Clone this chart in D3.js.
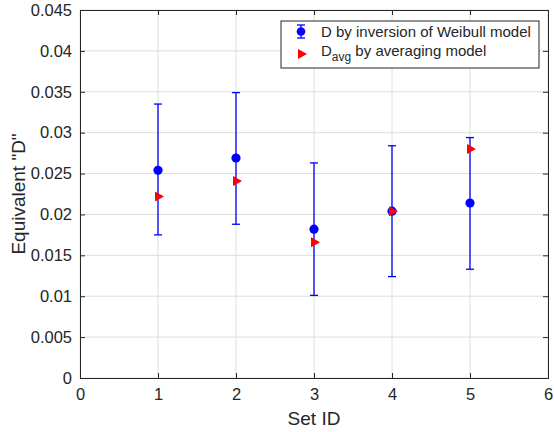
<!DOCTYPE html>
<html>
<head>
<meta charset="utf-8">
<script src="https://cdn.jsdelivr.net/npm/d3@7"></script>
<style>
  body { margin: 0; background: #fff; }
  text { font-family: "Liberation Sans", Arial, Helvetica, sans-serif; fill: #262626; }
</style>
</head>
<body>
<div class="chart"></div>
<script>

// DATA ------------------------------
const setIds = [1, 2, 3, 4, 5];
const dWeibull = [0.0254, 0.0269, 0.0182, 0.0204, 0.0214];
const dLower = [0.0175, 0.0188, 0.0101, 0.0124, 0.0133];
const dUpper = [0.0335, 0.0349, 0.0263, 0.0284, 0.0294];
const dAvg = [0.0222, 0.0241, 0.0166, 0.0204, 0.0280];
const xTicks = [0, 1, 2, 3, 4, 5, 6];
const yTicks = [0, 0.005, 0.01, 0.015, 0.02, 0.025, 0.03, 0.035, 0.04, 0.045];


// CHART INIT ------------------------------
const margin = {top: 10, right: 6, bottom: 54, left: 80};
const width = 554 - margin.left - margin.right;
const height = 432 - margin.top - margin.bottom;

const svg = d3.select(".chart").append("svg")
  .attr("width", width + margin.left + margin.right)
  .attr("height", height + margin.top + margin.bottom)
  .append("g")
  .attr("transform", "translate(" + margin.left + "," + margin.top + ")");

const xScale = d3.scaleLinear().domain([0, 6]).range([0, width]);
const yScale = d3.scaleLinear().domain([0, 0.045]).range([height, 0]);

// grid
svg.append("g").selectAll("line.gx")
  .data(xTicks)
  .join("line")
  .attr("x1", d => xScale(d)).attr("x2", d => xScale(d))
  .attr("y1", 0).attr("y2", height)
  .attr("stroke", "#dedede").attr("stroke-width", 1);

svg.append("g").selectAll("line.gy")
  .data(yTicks)
  .join("line")
  .attr("x1", 0).attr("x2", width)
  .attr("y1", d => yScale(d)).attr("y2", d => yScale(d))
  .attr("stroke", "#dedede").attr("stroke-width", 1);

// axes
const xAxis = d3.axisBottom(xScale).tickValues(xTicks).tickSize(-5).tickPadding(10).tickFormat(d3.format("d"));
const yAxis = d3.axisLeft(yScale).tickValues(yTicks).tickSize(-5).tickPadding(8).tickFormat(d => d === 0 ? "0" : String(+d.toFixed(3)));

svg.append("g")
  .attr("class", "x-axis")
  .attr("transform", `translate(0, ${height})`)
  .call(xAxis);

svg.append("g")
  .attr("class", "y-axis")
  .call(yAxis);

// top / right mirrored ticks
svg.append("g").call(d3.axisTop(xScale).tickValues(xTicks).tickSize(-5).tickFormat(""));
svg.append("g").attr("transform", `translate(${width},0)`)
  .call(d3.axisRight(yScale).tickValues(yTicks).tickSize(-5).tickFormat(""));

svg.selectAll(".domain, .tick line").attr("stroke", "#262626");
svg.selectAll(".tick text").attr("font-size", 16.5).attr("fill", "#333")
  .style("font-family", "'Liberation Sans', Arial, sans-serif");

svg.append("text")
  .attr("x", width / 2).attr("y", height + 47)
  .attr("text-anchor", "middle")
  .attr("font-size", 19)
  .attr("fill", "#333")
  .text("Set ID");

svg.append("text")
  .attr("transform", `translate(-55, ${height / 2}) rotate(-90)`)
  .attr("text-anchor", "middle")
  .attr("font-size", 19)
  .attr("fill", "#333")
  .text("Equivalent \"D\"");

// error bars
const pts = setIds.map((s, i) => ({s: s, d: dWeibull[i], lo: dLower[i], hi: dUpper[i], avg: dAvg[i]}));
const bars = svg.append("g").selectAll("g").data(pts).join("g");
bars.append("line")
  .attr("x1", d => xScale(d.s)).attr("x2", d => xScale(d.s))
  .attr("y1", d => yScale(d.lo)).attr("y2", d => yScale(d.hi))
  .attr("stroke", "#0000ff").attr("stroke-width", 1.3);
bars.selectAll("line.cap")
  .data(d => [{s: d.s, v: d.lo}, {s: d.s, v: d.hi}])
  .join("line")
  .attr("x1", d => xScale(d.s) - 4).attr("x2", d => xScale(d.s) + 4)
  .attr("y1", d => yScale(d.v)).attr("y2", d => yScale(d.v))
  .attr("stroke", "#0000ff").attr("stroke-width", 1.3);
bars.append("circle")
  .attr("cx", d => xScale(d.s)).attr("cy", d => yScale(d.d))
  .attr("r", 4.6).attr("fill", "#0000ff");

// red triangles
const tri = "M-4,-5L5,0L-4,5Z";
svg.append("g").selectAll("path").data(pts).join("path")
  .attr("d", tri)
  .attr("transform", d => `translate(${xScale(d.s) + 1},${yScale(d.avg)})`)
  .attr("fill", "#ff0000");

// legend
const lg = svg.append("g").attr("transform", "translate(201,11)");
lg.append("rect").attr("width", 258).attr("height", 47)
  .attr("fill", "#fff").attr("stroke", "#262626").attr("stroke-width", 1);
lg.append("line").attr("x1", 20).attr("x2", 20).attr("y1", 4).attr("y2", 17)
  .attr("stroke", "#0000ff").attr("stroke-width", 1.3);
lg.append("line").attr("x1", 16).attr("x2", 24).attr("y1", 4).attr("y2", 4)
  .attr("stroke", "#0000ff").attr("stroke-width", 1.3);
lg.append("line").attr("x1", 16).attr("x2", 24).attr("y1", 17).attr("y2", 17)
  .attr("stroke", "#0000ff").attr("stroke-width", 1.3);
lg.append("circle").attr("cx", 20).attr("cy", 10.5).attr("r", 4.3).attr("fill", "#0000ff");
lg.append("text").attr("x", 40).attr("y", 16).attr("font-size", 15)
  .text("D by inversion of Weibull model");
lg.append("path").attr("d", tri).attr("transform", "translate(21,33)").attr("fill", "#ff0000");
const t2 = lg.append("text").attr("x", 40).attr("y", 35).attr("font-size", 15);
t2.append("tspan").text("D");
t2.append("tspan").attr("dy", 5).attr("font-size", 12).text("avg");
t2.append("tspan").attr("dy", -5).text(" by averaging model");

</script>
</body>
</html>
